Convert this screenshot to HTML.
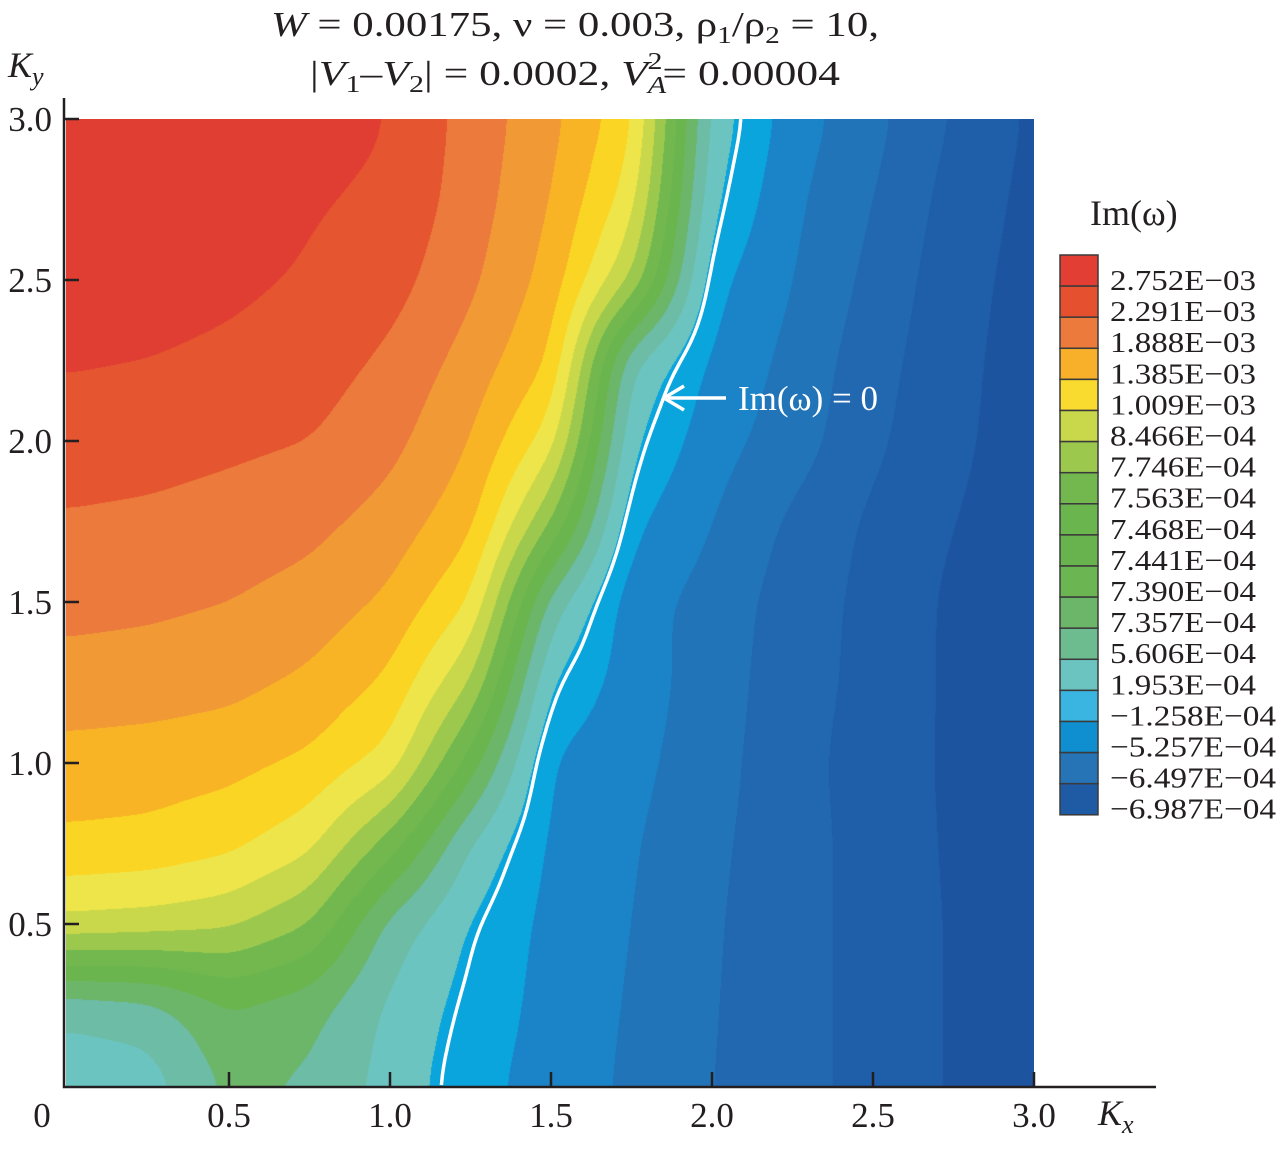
<!DOCTYPE html>
<html><head><meta charset="utf-8">
<style>
html,body{margin:0;padding:0;background:#fff;}
#wrap{position:relative;width:1277px;height:1149px;overflow:hidden;}
canvas{position:absolute;left:66px;top:119px;}
svg{position:absolute;left:0;top:0;}
text{font-family:"Liberation Serif",serif;fill:#231f20;}
</style></head>
<body>
<div id="wrap">
<canvas id="cv" width="968" height="967"></canvas>
<svg id="sv" width="1277" height="1149"></svg>
</div>
<script>
// Grid axes (Kx and Ky, step 0.25)
const kxValues = [0,0.25,0.5,0.75,1.0,1.25,1.5,1.75,2.0,2.25,2.5,2.75,3.0];
const kyValues = [0,0.25,0.5,0.75,1.0,1.25,1.5,1.75,2.0,2.25,2.5,2.75,3.0];
// Field values as contour-band index (row per Ky, bottom to top)
const row000 = [6.3,6.5,8.2,7.8,6.6,5.3,4.6,3.8,3.0,2.4,1.6,0.9,0.5];
const row025 = [7.3,7.6,9.0,8.4,6.8,5.6,4.65,3.9,3.05,2.4,1.6,0.9,0.5];
const row050 = [12.8,12.6,12.2,11.0,7.6,5.9,4.7,4.0,3.1,2.4,1.6,0.9,0.5];
const row075 = [14.8,14.7,14.3,13.3,10.5,6.9,4.8,4.1,3.2,2.4,1.6,0.85,0.45];
const row100 = [15.6,15.5,15.3,14.8,13.6,9.5,4.9,4.3,3.4,2.3,1.6,0.8,0.4];
const row125 = [16.6,16.5,16.3,15.8,14.8,12.0,5.9,4.5,3.5,2.4,1.7,0.8,0.4];
const row150 = [17.3,17.2,17.0,16.6,15.8,14.0,7.5,4.4,3.6,2.5,1.7,0.8,0.4];
const row175 = [17.9,17.8,17.6,17.3,16.6,15.3,11.0,5.2,4.0,2.8,1.8,1.0,0.5];
const row200 = [18.5,18.4,18.2,18.0,17.3,16.0,13.5,6.1,4.4,3.5,2.2,1.2,0.5];
const row225 = [19.1,19.0,18.8,18.5,17.8,16.6,15.0,7.0,4.8,3.7,2.4,1.3,0.5];
const row250 = [19.5,19.4,19.2,18.9,18.4,17.2,15.6,12.0,5.3,4.0,2.7,1.4,0.6];
const row275 = [19.7,19.6,19.4,19.1,18.8,17.5,16.0,13.5,6.1,4.2,3.0,1.6,0.7];
const row300 = [19.8,19.7,19.6,19.4,19.0,17.6,16.3,14.3,6.6,4.5,3.3,1.9,0.8];
const gridRows = [row000,row025,row050,row075,row100,row125,row150,row175,row200,row225,row250,row275,row300];
const zeroLevel = 5.8;
const bandColors = ["#1d54a0","#1f5ea8","#2168b0","#2274b9","#1b84c8","#0aa5dd","#6cc4c0","#6cbca6","#6cb66a","#6bb54f","#72b84f","#9cc84e","#c9d84a","#eee54a","#fbd524","#f8b425","#f19a35","#ec7a3c","#e5552f","#e03e33"];
const legendLabels = ["2.752E\u221203","2.291E\u221203","1.888E\u221203","1.385E\u221203","1.009E\u221203","8.466E\u221204","7.746E\u221204","7.563E\u221204","7.468E\u221204","7.441E\u221204","7.390E\u221204","7.357E\u221204","5.606E\u221204","1.953E\u221204","\u22121.258E\u221204","\u22125.257E\u221204","\u22126.497E\u221204","\u22126.987E\u221204"];
const legendColors = ["#e23e33","#e5502f","#ec7a3c","#f8b02a","#f9db30","#c9d84a","#9cc84e","#72b84f","#6bb54f","#68b34e","#6cb553","#6cb66a","#6cbc90","#6cc4c0","#3ab5e2","#0f8fcf","#2673b6","#1f5aa5"];
const xTicks = [0.5,1.0,1.5,2.0,2.5,3.0];
const yTicks = [0.5,1.0,1.5,2.0,2.5,3.0];

const X0=68, SC=322, Y0=1085;
const xs = k => X0 + k*SC;
const ys = k => Y0 - k*SC;

function field(kx,ky){
  const n=kxValues.length-1, step=kxValues[1]-kxValues[0];
  let fx=Math.min(Math.max(kx/step,0),n-1e-6), fy=Math.min(Math.max(ky/step,0),n-1e-6);
  const i=Math.floor(fx), j=Math.floor(fy), tx=fx-i, ty=fy-j;
  const a=gridRows[j][i], b=gridRows[j][i+1], c=gridRows[j+1][i], d=gridRows[j+1][i+1];
  return (a*(1-tx)+b*tx)*(1-ty)+(c*(1-tx)+d*tx)*ty;
}
function hex(h){return [parseInt(h.substr(1,2),16),parseInt(h.substr(3,2),16),parseInt(h.substr(5,2),16)];}
const rgb = bandColors.map(hex);
const cv=document.getElementById('cv'), ctx=cv.getContext('2d');
const W=cv.width,H=cv.height;
let F=new Float32Array(W*H);
for(let py=0;py<H;py++)for(let px=0;px<W;px++){
  F[py*W+px]=field((px+66-X0)/SC,(Y0-(py+119))/SC);
}
function blurH(src,r){const out=new Float32Array(W*H);for(let y=0;y<H;y++){let s=0;const o=y*W;
  for(let k=-r;k<=r;k++)s+=src[o+Math.min(W-1,Math.max(0,k))];
  for(let x=0;x<W;x++){out[o+x]=s/(2*r+1);s+=src[o+Math.min(W-1,x+r+1)]-src[o+Math.max(0,x-r)];}}return out;}
function blurV(src,r){const out=new Float32Array(W*H);for(let x=0;x<W;x++){let s=0;
  for(let k=-r;k<=r;k++)s+=src[Math.min(H-1,Math.max(0,k))*W+x];
  for(let y=0;y<H;y++){out[y*W+x]=s/(2*r+1);s+=src[Math.min(H-1,y+r+1)*W+x]-src[Math.max(0,y-r)*W+x];}}return out;}
for(let p=0;p<2;p++){F=blurH(F,15);F=blurV(F,22);}
const img=ctx.createImageData(W,H);
for(let i=0;i<W*H;i++){let b=Math.floor(F[i]);b=Math.max(0,Math.min(rgb.length-1,b));const c=rgb[b],o=i*4;
  img.data[o]=c[0];img.data[o+1]=c[1];img.data[o+2]=c[2];img.data[o+3]=255;}
ctx.putImageData(img,0,0);

const NS="http://www.w3.org/2000/svg", sv=document.getElementById('sv');
function mk(tag,attrs,txt){const e=document.createElementNS(NS,tag);for(const k in attrs)e.setAttribute(k,attrs[k]);if(txt!==undefined)e.textContent=txt;sv.appendChild(e);return e;}

// zero contour from field
let pts=[];
for(let py=0;py<H;py+=2){
  for(let px=1;px<W-1;px++){const a=F[py*W+px-1],v=F[py*W+px];
    if(a>=zeroLevel && v<zeroLevel){const t=(a-zeroLevel)/(a-v);pts.push((66+px-1+t).toFixed(1)+' '+(119+py));break;}}
}
const zl=mk('polyline',{points:pts.join(','),fill:'none',stroke:'#fff','stroke-width':3.5});



// axes
const ax=mk('path',{d:'M64 98 V1087 H1156',stroke:'#231f20','stroke-width':2.5,fill:'none'});


xTicks.forEach(t=>{
  const tk=mk('line',{x1:xs(t),x2:xs(t),y1:1087,y2:1072,stroke:'#231f20','stroke-width':2.5});
  
  
  const lb=mk('text',{x:xs(t),y:1127,'font-size':35,'text-anchor':'middle'},t.toFixed(1));
  
  
});
yTicks.forEach(t=>{
  const tk=mk('line',{x1:64,x2:79,y1:ys(t),y2:ys(t),stroke:'#231f20','stroke-width':2.5});
  
  
  const lb=mk('text',{x:52,y:ys(t)+12,'font-size':35,'text-anchor':'end'},t.toFixed(1));
  
  
});
const z0=mk('text',{x:42,y:1127,'font-size':35,'text-anchor':'middle'},'0');



// legend
legendColors.forEach((c,i)=>{
  const r=mk('rect',{x:1060,y:255+i*31.1,width:38,height:31.1,fill:c,stroke:'#3a3a3a','stroke-width':1.5});
  
  
});
legendLabels.forEach((l,i)=>{
  const t=mk('text',{x:1110,y:290+i*31.1,'font-size':29,textLength:l.startsWith('\u2212')?166:146,lengthAdjust:'spacingAndGlyphs'},l);
  
  
});
</script>
<svg width="1277" height="1149" style="position:absolute;left:0;top:0">
<g font-family="Liberation Serif, serif" fill="#231f20">
<text x="575" y="36" font-size="35" text-anchor="middle" textLength="608" lengthAdjust="spacingAndGlyphs"><tspan font-style="italic">W</tspan> = 0.00175, ν = 0.003, ρ<tspan font-size="24" dy="7">1</tspan><tspan dy="-7">/ρ</tspan><tspan font-size="24" dy="7">2</tspan><tspan dy="-7"> = 10,</tspan></text>
<text x="575" y="85" font-size="35" text-anchor="middle" textLength="530" lengthAdjust="spacingAndGlyphs">|<tspan font-style="italic">V</tspan><tspan font-size="24" dy="7">1</tspan><tspan dy="-7">–</tspan><tspan font-style="italic">V</tspan><tspan font-size="24" dy="7">2</tspan><tspan dy="-7">| = 0.0002, </tspan><tspan font-style="italic">V</tspan><tspan font-size="24" font-style="italic" dy="8">A</tspan><tspan font-size="24" dx="-15" dy="-24">2</tspan><tspan dy="16">= 0.00004</tspan></text>
<text x="8" y="77" font-size="36" font-style="italic">K<tspan font-size="26" dy="8">y</tspan></text>
<text x="1098" y="1125" font-size="36" font-style="italic">K<tspan font-size="26" dy="8">x</tspan></text>
<text x="1090" y="225" font-size="36">Im(ω)</text>
</g>
<g>
<line x1="726" y1="398" x2="668" y2="398" stroke="#fff" stroke-width="3.5"/>
<path d="M664 398 L684 386 M664 398 L684 410" stroke="#fff" stroke-width="3.5" fill="none"/>
<text x="738" y="410" font-size="35" font-family="Liberation Serif, serif" fill="#fff" style="fill:#fff">Im(ω) = 0</text>
</g>
</svg>
</body></html>
